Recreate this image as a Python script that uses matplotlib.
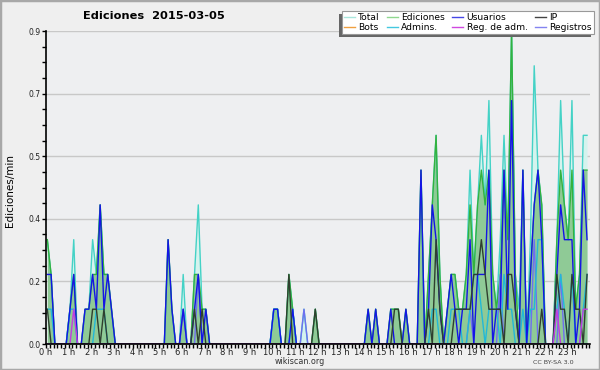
import numpy as np
import matplotlib
matplotlib.use("Agg")
import matplotlib.pyplot as plt
from matplotlib.ticker import FixedLocator, MultipleLocator
import matplotlib.patches as mpatches

# ---- data: 144 ten-minute bins (edits per minute) ----
total = [
    .3, .2, 0, 0, 0, 0,      .1, .3, 0, 0, .1, .1,     .3, .2, .4, .2, .2, .1,
    0, 0, 0, 0, 0, 0,        0, 0, 0, 0, 0, 0,         0, 0, .3, .1, 0, 0,
    .2, 0, 0, .2, .4, .1,    .1, 0, 0, 0, 0, 0,        0, 0, 0, 0, 0, 0,
    0, 0, 0, 0, 0, 0,        .1, .1, 0, 0, .2, .1,     0, 0, .1, 0, 0, .1,
    0, 0, 0, 0, 0, 0,        0, 0, 0, 0, 0, 0,         0, .1, 0, .1, 0, 0,
    0, .1, .1, .1, 0, .1,    0, 0, 0, .5, 0, .2,       .4, .6, .2, 0, .1, .2,
    .2, .1, .1, .2, .5, .2,  .4, .6, .4, .7, .2, .1,   .3, .6, .3, .9, .2, .1,
    .5, 0, .3, .8, .5, .4,   0, 0, 0, .3, .7, .4,      .3, .7, .1, .2, .6, .6,
]
edits = [
    .3, .2, 0, 0, 0, 0,      .1, .2, 0, 0, .1, .1,     .2, .2, .4, .2, .2, .1,
    0, 0, 0, 0, 0, 0,        0, 0, 0, 0, 0, 0,         0, 0, .3, .1, 0, 0,
    .1, 0, 0, .2, .2, .1,    .1, 0, 0, 0, 0, 0,        0, 0, 0, 0, 0, 0,
    0, 0, 0, 0, 0, 0,        .1, .1, 0, 0, .2, .1,     0, 0, 0, 0, 0, .1,
    0, 0, 0, 0, 0, 0,        0, 0, 0, 0, 0, 0,         0, .1, 0, .1, 0, 0,
    0, .1, .1, .1, 0, .1,    0, 0, 0, .5, 0, .2,       .4, .6, .2, 0, .1, .2,
    .2, .1, .1, .2, .4, .2,  .4, .5, .4, .5, .2, .1,   .2, .5, .3, .9, .2, 0,
    .5, 0, .2, .4, .5, .4,   0, 0, 0, .3, .5, .4,      .3, .5, .1, .2, .5, .5,
]
users = [
    .2, .2, 0, 0, 0, 0,      .1, .2, 0, 0, .1, .1,     .2, .1, .4, .1, .2, .1,
    0, 0, 0, 0, 0, 0,        0, 0, 0, 0, 0, 0,         0, 0, .3, .1, 0, 0,
    .1, 0, 0, .1, .2, 0,     .1, 0, 0, 0, 0, 0,        0, 0, 0, 0, 0, 0,
    0, 0, 0, 0, 0, 0,        .1, .1, 0, 0, 0, .1,      0, 0, 0, 0, 0, 0,
    0, 0, 0, 0, 0, 0,        0, 0, 0, 0, 0, 0,         0, .1, 0, .1, 0, 0,
    0, .1, 0, 0, 0, .1,      0, 0, 0, .5, 0, .1,       .4, .3, .1, 0, .1, .2,
    .1, 0, .1, .1, .3, 0,    .2, .2, .2, .5, 0, .1,    .1, .5, .1, .7, .1, 0,
    .5, 0, .2, .4, .5, .3,   0, 0, 0, .2, .4, .3,      .3, .3, 0, .1, .5, .3,
]
ip = [
    .1, 0, 0, 0, 0, 0,       0, 0, 0, 0, 0, 0,         .1, .1, 0, .1, 0, 0,
    0, 0, 0, 0, 0, 0,        0, 0, 0, 0, 0, 0,         0, 0, 0, 0, 0, 0,
    0, 0, 0, .1, 0, .1,      0, 0, 0, 0, 0, 0,         0, 0, 0, 0, 0, 0,
    0, 0, 0, 0, 0, 0,        0, 0, 0, 0, .2, 0,        0, 0, 0, 0, 0, .1,
    0, 0, 0, 0, 0, 0,        0, 0, 0, 0, 0, 0,         0, 0, 0, 0, 0, 0,
    0, 0, .1, .1, 0, 0,      0, 0, 0, 0, 0, .1,        0, .3, .1, 0, 0, 0,
    .1, .1, .1, .1, .1, .2,  .2, .3, .2, .1, .1, .1,   .1, 0, .2, .2, .1, 0,
    0, 0, 0, 0, 0, .1,       0, 0, 0, .2, .1, .1,      0, .2, .1, .1, 0, .2,
]
bots = [0] * 144
admins = [
    .1, .1, 0, 0, 0, 0,      .1, .1, 0, 0, 0, 0,       0, .1, .1, .1, 0, 0,
    0, 0, 0, 0, 0, 0,        0, 0, 0, 0, 0, 0,         0, 0, 0, 0, 0, 0,
    0, 0, 0, 0, 0, 0,        0, 0, 0, 0, 0, 0,         0, 0, 0, 0, 0, 0,
    0, 0, 0, 0, 0, 0,        .1, .1, 0, 0, 0, .1,      0, 0, 0, 0, 0, 0,
    0, 0, 0, 0, 0, 0,        0, 0, 0, 0, 0, 0,         0, 0, 0, 0, 0, 0,
    0, 0, 0, 0, 0, 0,        0, 0, 0, 0, 0, 0,         .1, .1, 0, 0, 0, .1,
    .1, .1, 0, 0, .1, .2,    .2, .1, 0, .1, .1, .1,    0, .2, .1, .1, 0, 0,
    .1, 0, .1, .1, .3, .3,   0, 0, 0, .1, .2, .1,      0, .2, 0, 0, .1, .2,
]
regadm = [0] * 144
regadm[7] = .1
regadm[135] = .1
regadm[142] = .1
regadm[143] = .1
registros = [0] * 144
registros[36] = .1
registros[40] = .2
registros[68] = .1
registros[112] = .1
registros[120] = .2
registros[129] = .3
registros[136] = .2

hour_labels = [f"{h} h" for h in range(24)]
legend_labels = ["Total", "Ediciones", "Usuarios", "IP",
                 "Bots", "Admins.", "Reg. de adm.", "Registros"]

# ---- figure ----
BG = "#eeeff1"
fig = plt.figure(figsize=(6.0, 3.7), dpi=100, facecolor="#efefef")
ax = fig.add_axes([46 / 600, 1 - 344 / 370, (589.5 - 46) / 600, (344 - 31) / 370])
ax.set_facecolor(BG)

x = (np.arange(144) + 0.35) / 6.0

ax.fill_between(x, total, color="#d5f3ee", lw=0, zorder=1)
ax.plot(x, total, color="#44d2c6", lw=1.0, zorder=3)
ax.fill_between(x, edits, color="#8fca96", lw=0, zorder=2)
ax.plot(x, edits, color="#33b23f", lw=1.0, zorder=3)
ax.plot(x, registros, color="#6f6ff0", lw=1.0, zorder=4)
ax.plot(x, admins, color="#22b8d8", lw=1.0, zorder=4)
ax.plot(x, users, color="#1414e6", lw=1.0, zorder=5)
ax.plot(x, ip, color="#2f3f2f", lw=1.0, zorder=5)
ax.plot(x, regadm, color="#c43ce0", lw=1.0, zorder=5)
ax.plot(x, bots, color="#f0a030", lw=1.0, zorder=0, alpha=0)

ax.set_xlim(0, 24)
ax.set_ylim(0, 0.9)

yt = [0.18 * k for k in range(6)]
ax.yaxis.set_major_locator(FixedLocator(yt))
ax.set_yticklabels([f"{v:.1f}" for v in yt])
ax.yaxis.set_minor_locator(FixedLocator([0.045 * k for k in range(21)]))
ax.set_xticks(range(24))
ax.set_xticklabels(hour_labels)
ax.xaxis.set_minor_locator(MultipleLocator(1 / 6))

ax.tick_params(axis="both", which="both", direction="out", length=3, width=1,
               color="black")
ax.tick_params(axis="x", which="major", labelsize=6, pad=0, labelcolor="#222222")
ax.tick_params(axis="y", which="major", labelsize=5.5, pad=1, labelcolor="#222222")
for lab in ax.get_xticklabels() + ax.get_yticklabels():
    lab.set_family("DejaVu Sans")

ax.grid(axis="y", which="major", color="#c8c8c8", lw=1.0, zorder=0)
ax.set_axisbelow(True)
for s in ["top", "right"]:
    ax.spines[s].set_visible(False)
for s in ["left", "bottom"]:
    ax.spines[s].set_linewidth(1.2)
    ax.spines[s].set_zorder(10)

ax.set_ylabel("Ediciones/min", fontsize=7.5, family="DejaVu Sans")
ax.yaxis.set_label_coords(-0.057, 0.49)

fig.text(154 / 600, 1 - 16 / 370, "Ediciones  2015-03-05", ha="center", va="center",
         fontsize=8.2, fontweight="bold", family="DejaVu Sans")
fig.text(300 / 600, 1 - 362 / 370, "wikiscan.org", ha="center", va="center",
         fontsize=5.8, family="DejaVu Sans", color="#333333")
fig.text(553 / 600, 1 - 362 / 370, "CC BY-SA 3.0", ha="center", va="center",
         fontsize=4.6, family="DejaVu Sans", color="#444444")

# legend
leg_colors = ["#a8e6dc", "#8fd88f", "#4646e6", "#444444",
              "#f0a040", "#44c8e0", "#d048e0", "#8484f0"]
handles = [plt.Line2D([], [], color=c, lw=1.0) for c in leg_colors]
order = [0, 4, 1, 5, 2, 6, 3, 7]
leg = fig.legend([handles[i] for i in order], [legend_labels[i] for i in order],
                 ncol=4, loc="upper right", bbox_to_anchor=(594 / 600, 1 - 11 / 370),
                 fontsize=6.6, frameon=True, fancybox=False, shadow=False,
                 handlelength=1.2, handletextpad=0.35, columnspacing=0.8,
                 labelspacing=0.05, borderpad=0.25, borderaxespad=0)
leg.get_frame().set_edgecolor("#999999")
leg.get_frame().set_linewidth(0.8)
leg.get_frame().set_facecolor("white")
leg.get_frame().set_alpha(1)
for t in leg.get_texts():
    t.set_family("DejaVu Sans")

fig.canvas.draw()
bb = leg.get_window_extent()
shadow = mpatches.Rectangle((bb.x0 - 3, bb.y0 - 3), bb.width, bb.height,
                            transform=None, facecolor="#666666", edgecolor="none",
                            zorder=leg.get_zorder() - 0.1)
fig.patches.append(shadow)

# figure border
fig.patches.append(mpatches.Rectangle((0, 0), 1, 1, transform=fig.transFigure,
                                      fill=False, edgecolor="#a8a8a8", lw=2.5))

fig.savefig("out.png", dpi=100, facecolor=fig.get_facecolor())
